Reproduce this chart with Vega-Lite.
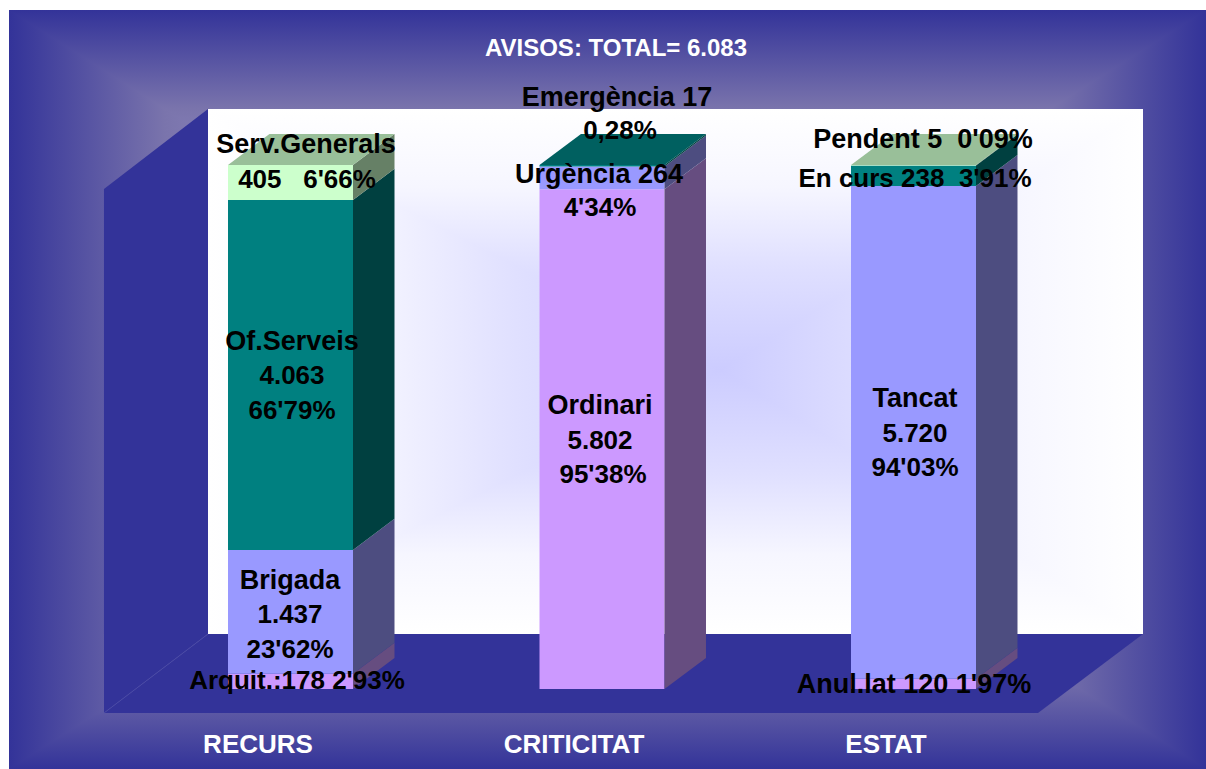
{
"$schema":"https://vega.github.io/schema/vega-lite/v6.json",
"width":1206,"height":769,"padding":0,
"autosize":{"type":"none"},
"background":"white",
"config":{"view":{"stroke":null}},
"datasets":{
"segments":[
{"bar":"RECURS","seg":"Arquit","tone":"lila","value":178,"x":0,"x2":0.4013,"y":0,"y2":178},
{"bar":"RECURS","seg":"Brigada","tone":"blau","value":1437,"x":0,"x2":0.4013,"y":178,"y2":1615},
{"bar":"RECURS","seg":"Of.Serveis","tone":"teal","value":4063,"x":0,"x2":0.4013,"y":1615,"y2":5678},
{"bar":"RECURS","seg":"Serv.Generals","tone":"verd","value":405,"x":0,"x2":0.4013,"y":5678,"y2":6083},
{"bar":"CRITICITAT","seg":"Ordinari","tone":"lila","value":5802,"x":1,"x2":1.4013,"y":0,"y2":5802},
{"bar":"CRITICITAT","seg":"Urgencia","tone":"blau","value":264,"x":1,"x2":1.4013,"y":5802,"y2":6066},
{"bar":"CRITICITAT","seg":"Emergencia","tone":"teal","value":17,"x":1,"x2":1.4013,"y":6066,"y2":6083},
{"bar":"ESTAT","seg":"Anul.lat","tone":"lila","value":120,"x":2,"x2":2.4013,"y":0,"y2":120},
{"bar":"ESTAT","seg":"Tancat","tone":"blau","value":5720,"x":2,"x2":2.4013,"y":120,"y2":5840},
{"bar":"ESTAT","seg":"En curs","tone":"teal","value":238,"x":2,"x2":2.4013,"y":5840,"y2":6078},
{"bar":"ESTAT","seg":"Pendent","tone":"verd","value":5,"x":2,"x2":2.4013,"y":6078,"y2":6083}
],
"sides":[
{"seg":"Arquit","tone":"lila","x":0.4013,"y":0,"y2":178},{"seg":"Arquit","tone":"lila","x":0.5345,"y":360,"y2":538},
{"seg":"Brigada","tone":"blau","x":0.4013,"y":178,"y2":1615},{"seg":"Brigada","tone":"blau","x":0.5345,"y":538,"y2":1975},
{"seg":"Of.Serveis","tone":"teal","x":0.4013,"y":1615,"y2":5678},{"seg":"Of.Serveis","tone":"teal","x":0.5345,"y":1975,"y2":6038},
{"seg":"Serv.Generals","tone":"verd","x":0.4013,"y":5678,"y2":6083},{"seg":"Serv.Generals","tone":"verd","x":0.5345,"y":6038,"y2":6443},
{"seg":"Ordinari","tone":"lila","x":1.4013,"y":0,"y2":5802},{"seg":"Ordinari","tone":"lila","x":1.5345,"y":360,"y2":6162},
{"seg":"Urgencia","tone":"blau","x":1.4013,"y":5802,"y2":6066},{"seg":"Urgencia","tone":"blau","x":1.5345,"y":6162,"y2":6426},
{"seg":"Emergencia","tone":"teal","x":1.4013,"y":6066,"y2":6083},{"seg":"Emergencia","tone":"teal","x":1.5345,"y":6426,"y2":6443},
{"seg":"Anul.lat","tone":"lila","x":2.4013,"y":0,"y2":120},{"seg":"Anul.lat","tone":"lila","x":2.5345,"y":360,"y2":480},
{"seg":"Tancat","tone":"blau","x":2.4013,"y":120,"y2":5840},{"seg":"Tancat","tone":"blau","x":2.5345,"y":480,"y2":6200},
{"seg":"En curs","tone":"teal","x":2.4013,"y":5840,"y2":6078},{"seg":"En curs","tone":"teal","x":2.5345,"y":6200,"y2":6438},
{"seg":"Pendent","tone":"verd","x":2.4013,"y":6078,"y2":6083},{"seg":"Pendent","tone":"verd","x":2.5345,"y":6438,"y2":6443}
],
"tops":[
{"bar":"RECURS","tone":"verd","y":6083,"x":0,"x2":0.4013},{"bar":"RECURS","tone":"verd","y":6443,"x":0.1332,"x2":0.5345},
{"bar":"CRITICITAT","tone":"teal","y":6083,"x":1,"x2":1.4013},{"bar":"CRITICITAT","tone":"teal","y":6443,"x":1.1332,"x2":1.5345},
{"bar":"ESTAT","tone":"verd","y":6083,"x":2,"x2":2.4013},{"bar":"ESTAT","tone":"verd","y":6443,"x":2.1332,"x2":2.5345}
],
"words":[
{"label":"Serv.Generals","x":0.2504,"y":6315.2},
{"label":"Of.Serveis","x":0.2055,"y":4028.3},
{"label":"Brigada","x":0.199,"y":1253.8},
{"label":"Emergència 17","x":1.2488,"y":6860.8},
{"label":"Urgència 264","x":1.191,"y":5966.9},
{"label":"Ordinari","x":1.1942,"y":3285.3},
{"label":"Pendent 5\u00a0\u00a00'09%","x":2.2311,"y":6373.2},
{"label":"Tancat","x":2.2055,"y":3366.6},
{"label":"Anul.lat 120 1'97%","x":2.2022,"y":46.4}
],
"numbers":[
{"label":"405\u00a0\u00a0\u00a06'66%","x":0.2536,"y":5908.9},
{"label":"4.063","x":0.2055,"y":3633.6},
{"label":"66'79%","x":0.2055,"y":3227.2},
{"label":"1.437","x":0.199,"y":859.1},
{"label":"23'62%","x":0.199,"y":452.8},
{"label":"Arquit.:178 2'93%","x":0.2215,"y":92.9},
{"label":"0,28%","x":1.2584,"y":6477.7},
{"label":"4'34%","x":1.1942,"y":5583.8},
{"label":"5.802","x":1.1942,"y":2879},
{"label":"95'38%","x":1.2039,"y":2484.3},
{"label":"En curs 238\u00a0\u00a03'91%","x":2.2055,"y":5920.5},
{"label":"5.720","x":2.2055,"y":2960.3},
{"label":"94'03%","x":2.2055,"y":2565.5}
],
"headings":[
{"label":"RECURS","x":0.0963,"y":-650.1},
{"label":"CRITICITAT","x":1.1108,"y":-650.1},
{"label":"ESTAT","x":2.1124,"y":-650.1}
]
},
"encoding":{
"x":{"field":"x","type":"quantitative","axis":null,"scale":{"domain":[-0.73194,3.13965],"nice":false,"zero":false}},
"y":{"field":"y","type":"quantitative","axis":null,"scale":{"domain":[-928.7,7998.4],"nice":false,"zero":false}}
},
"layer":[
{"data":{"values":[{"y":7882.4,"x":-0.703,"x2":3.1397},{"y":7847.6,"x":-0.703,"x2":3.1397},{"y":3476.8,"x":1.2087,"x2":1.2279}]},
 "mark":{"type":"area","orient":"horizontal","opacity":1,"color":{"gradient":"linear","x1":0,"y1":0,"x2":0,"y2":1,"stops":[{"offset":0,"color":"#333399"},{"offset":0.26,"color":"#7a74ac"},{"offset":1,"color":"#ccccff"}]}},"encoding":{"x2":{"field":"x2"}}},
{"data":{"values":[{"y":-928.7,"x":-0.703,"x2":3.1397},{"y":-893.9,"x":-0.703,"x2":3.1397},{"y":3476.8,"x":1.2087,"x2":1.2279}]},
 "mark":{"type":"area","orient":"horizontal","opacity":1,"color":{"gradient":"linear","x1":0,"y1":1,"x2":0,"y2":0,"stops":[{"offset":0,"color":"#333399"},{"offset":0.26,"color":"#7a74ac"},{"offset":1,"color":"#ccccff"}]}},"encoding":{"x2":{"field":"x2"}}},
{"data":{"values":[{"x":-0.703,"y":-928.7,"y2":7882.4},{"x":1.2183,"y":3476.8,"y2":3476.8}]},
 "mark":{"type":"area","orient":"vertical","opacity":1,"color":{"gradient":"linear","x1":0,"y1":0,"x2":1,"y2":0,"stops":[{"offset":0,"color":"#333399"},{"offset":0.26,"color":"#7a74ac"},{"offset":1,"color":"#ccccff"}]}},"encoding":{"y2":{"field":"y2"}}},
{"data":{"values":[{"x":3.1397,"y":-928.7,"y2":7882.4},{"x":1.2183,"y":3476.8,"y2":3476.8}]},
 "mark":{"type":"area","orient":"vertical","opacity":1,"color":{"gradient":"linear","x1":1,"y1":0,"x2":0,"y2":0,"stops":[{"offset":0,"color":"#333399"},{"offset":0.26,"color":"#7a74ac"},{"offset":1,"color":"#ccccff"}]}},"encoding":{"y2":{"field":"y2"}}},

{"data":{"values":[{"y":6733.1,"x":-0.0642,"x2":2.9374},{"y":6698.3,"x":-0.0642,"x2":2.9374},{"y":3703.2,"x":1.5699,"x2":1.5891}]},
 "mark":{"type":"area","orient":"horizontal","opacity":1,"color":{"gradient":"linear","x1":0,"y1":0,"x2":0,"y2":1,"stops":[{"offset":0,"color":"#ffffff"},{"offset":0.3,"color":"#f6f6ff"},{"offset":0.6,"color":"#e0e0ff"},{"offset":1,"color":"#ccccff"}]}},"encoding":{"x2":{"field":"x2"}}},
{"data":{"values":[{"y":638.5,"x":-0.0642,"x2":2.9374},{"y":673.3,"x":-0.0642,"x2":2.9374},{"y":3703.2,"x":1.5699,"x2":1.5891}]},
 "mark":{"type":"area","orient":"horizontal","opacity":1,"color":{"gradient":"linear","x1":0,"y1":1,"x2":0,"y2":0,"stops":[{"offset":0,"color":"#ffffff"},{"offset":0.3,"color":"#f6f6ff"},{"offset":0.6,"color":"#e0e0ff"},{"offset":1,"color":"#ccccff"}]}},"encoding":{"x2":{"field":"x2"}}},
{"data":{"values":[{"x":-0.0642,"y":638.5,"y2":6733.1},{"x":1.5795,"y":3703.2,"y2":3703.2}]},
 "mark":{"type":"area","orient":"vertical","opacity":1,"color":{"gradient":"linear","x1":0,"y1":0,"x2":1,"y2":0,"stops":[{"offset":0,"color":"#ffffff"},{"offset":0.3,"color":"#f6f6ff"},{"offset":0.6,"color":"#e0e0ff"},{"offset":1,"color":"#ccccff"}]}},"encoding":{"y2":{"field":"y2"}}},
{"data":{"values":[{"x":2.9374,"y":638.5,"y2":6733.1},{"x":1.5795,"y":3703.2,"y2":3703.2}]},
 "mark":{"type":"area","orient":"vertical","opacity":1,"color":{"gradient":"linear","x1":1,"y1":0,"x2":0,"y2":0,"stops":[{"offset":0,"color":"#ffffff"},{"offset":0.3,"color":"#f6f6ff"},{"offset":0.6,"color":"#e0e0ff"},{"offset":1,"color":"#ccccff"}]}},"encoding":{"y2":{"field":"y2"}}},

{"data":{"values":[{"x":-0.3981,"y":-278.6,"y2":5804.4},{"x":-0.0642,"y":638.5,"y2":6733.1}]},
 "mark":{"type":"area","orient":"vertical","opacity":1,"color":"#333399"},"encoding":{"y2":{"field":"y2"}}},
{"data":{"values":[{"y":638.5,"x":-0.0642,"x2":2.9374},{"y":-278.6,"x":-0.3981,"x2":2.6003}]},
 "mark":{"type":"area","orient":"horizontal","opacity":1,"color":"#333399"},"encoding":{"x2":{"field":"x2"}}},
{"data":{"values":[{"x":-0.3981,"y":-278.6},{"x":-0.0642,"y":638.5}]},
 "mark":{"type":"line","color":"#4b4ba6","strokeWidth":1},"encoding":{}},

{"data":{"name":"segments"},"mark":{"type":"rect"},
 "encoding":{"x2":{"field":"x2"},"y2":{"field":"y2"},
 "color":{"field":"tone","type":"nominal","legend":null,"scale":{"domain":["lila","blau","teal","verd"],"range":["#cc99ff","#9999ff","#008080","#ccffcc"]}}}},
{"data":{"name":"sides"},"mark":{"type":"area","orient":"vertical","opacity":1},
 "encoding":{"y2":{"field":"y2"},"detail":{"field":"seg"},
 "color":{"field":"tone","type":"nominal","legend":null,"scale":{"domain":["lila","blau","teal","verd"],"range":["#664d80","#4d4d80","#004040","#668066"]}}}},
{"data":{"name":"tops"},"mark":{"type":"area","orient":"horizontal","opacity":1},
 "encoding":{"x2":{"field":"x2"},"detail":{"field":"bar"},
 "color":{"field":"tone","type":"nominal","legend":null,"scale":{"domain":["teal","verd"],"range":["#006060","#99bf99"]}}}},

{"data":{"name":"words"},"mark":{"type":"text","font":"Liberation Sans","fontWeight":"bold","fontSize":27,"color":"#000000","align":"center","baseline":"middle"},
 "encoding":{"text":{"field":"label"}}},
{"data":{"name":"numbers"},"mark":{"type":"text","font":"Liberation Sans","fontWeight":"bold","fontSize":26,"color":"#000000","align":"center","baseline":"middle"},
 "encoding":{"text":{"field":"label"}}},
{"data":{"values":[{"label":"AVISOS: TOTAL= 6.083","x":1.2456,"y":7429.6}]},"mark":{"type":"text","font":"Liberation Sans","fontWeight":"bold","fontSize":24,"color":"#ffffff","align":"center","baseline":"middle"},
 "encoding":{"text":{"field":"label"}}},
{"data":{"name":"headings"},"mark":{"type":"text","font":"Liberation Sans","fontWeight":"bold","fontSize":26,"color":"#ffffff","align":"center","baseline":"middle"},
 "encoding":{"text":{"field":"label"}}}
],
"resolve":{"scale":{"color":"independent"}}
}
